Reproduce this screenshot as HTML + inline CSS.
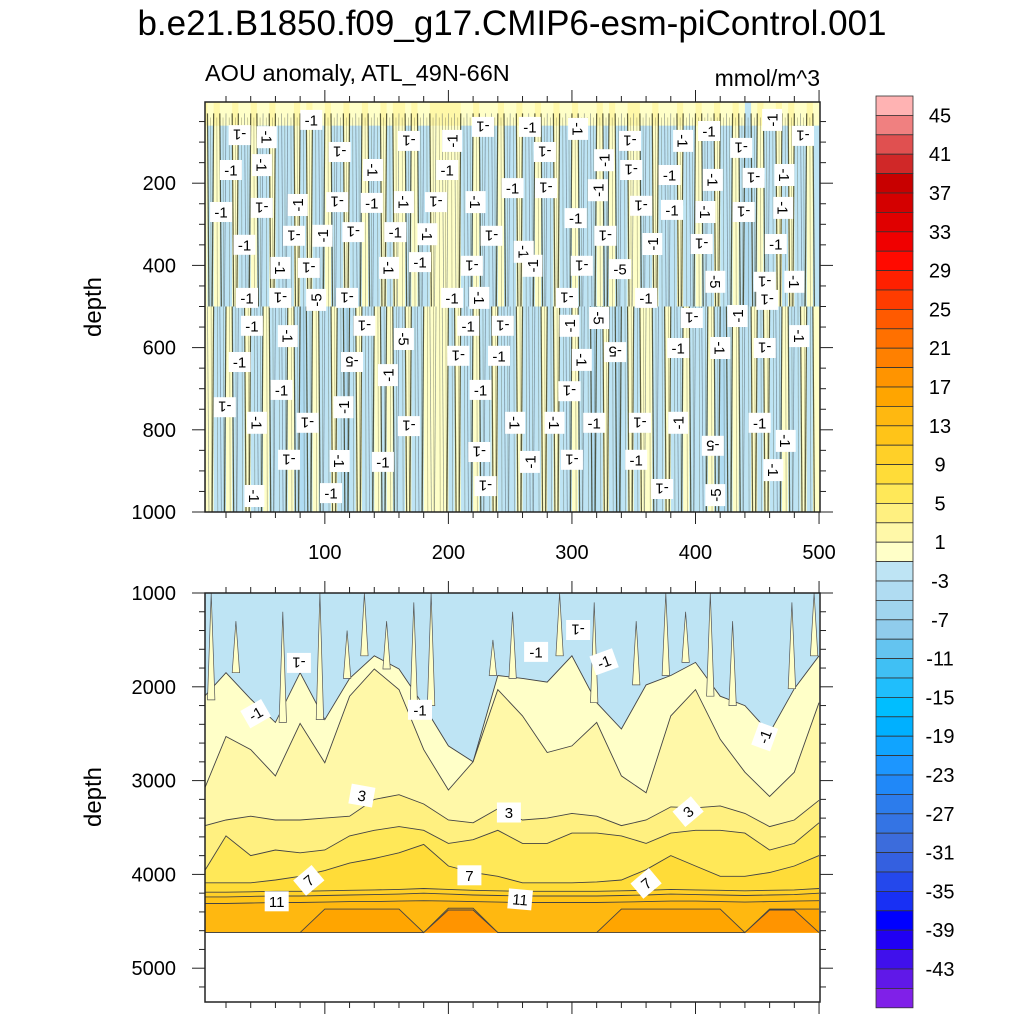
<!DOCTYPE html>
<html><head><meta charset="utf-8"><style>
html,body{margin:0;padding:0;background:#fff;}
svg{display:block;font-family:"Liberation Sans",sans-serif;}
</style></head><body>
<svg id="chart" width="1024" height="1024" viewBox="0 0 1024 1024" xmlns="http://www.w3.org/2000/svg">
<defs>
<clipPath id="clipTop"><rect x="205" y="102" width="615" height="410"/></clipPath>
<clipPath id="clipBot"><rect x="205" y="593" width="615" height="409"/></clipPath>
</defs>
<text x="512" y="35" text-anchor="middle" font-size="35">b.e21.B1850.f09_g17.CMIP6-esm-piControl.001</text>
<text x="205" y="81" font-size="23.5">AOU anomaly, ATL_49N-66N</text>
<text x="820" y="86" text-anchor="end" font-size="23">mmol/m^3</text>
<text transform="translate(101,307) rotate(-90)" text-anchor="middle" font-size="24">depth</text>
<text transform="translate(101,797) rotate(-90)" text-anchor="middle" font-size="24">depth</text>
<g id="topFill" clip-path="url(#clipTop)"></g>
<g id="topLabels"></g>
<g id="botFill" clip-path="url(#clipBot)"></g>
<g id="botLabels"></g>
<g id="axes"></g>
<g id="cbar"></g>
</svg>
<script>
// ---- data ----
const cbColors = ["#FFB3B3","#F08080","#E05050","#D02828","#C80000","#D40000","#E00000","#F00000","#FF0A00","#FF2000","#FF3C00","#FF5A00","#FF7000","#FF8000","#FF9400","#FFA500","#FFB810","#FFC418","#FFD028","#FFDC38","#FFE858","#FFF080","#FFF8A8","#FFFFC8","#BEE4F4","#B0DCF2","#A0D4EE","#90CCEC","#64C4F0","#40C0F4","#20BEFC","#00BEFF","#00B0FF","#10A4FF","#1C96FF","#2088F8","#2C7CEC","#3474E4","#3C6CDC","#3460E0","#2448EC","#1830F4","#0000FF","#2000F4","#4010EC","#6018E8","#8020E8"];
const cbLabels = ["45","41","37","33","29","25","21","17","13","9","5","1","-3","-7","-11","-15","-19","-23","-27","-31","-35","-39","-43"];
const xTicks = [100,200,300,400,500];
const topYTicks = [200,400,600,800,1000];
const botYTicks = [1000,2000,3000,4000,5000];

const topUpper = [0,-2,0,-2,-2,0,-2,-2,0,-2, -2,0,-2,-2,-2,0,-2,0,-2,-2, 0,-2,-2,0,-2,-2,0,-2,-2,0, -2,0,0,-2,0,-2,-2,0,0,0, 0,0,-2,-2,0,-2,-2,-2,0,-2, -2,0,-2,-2,0,-2,-2,0,-2,-2, 0,-2,-2,-2,0,-2,0,-2,-2,0, 0,-2,-2,0,-2,-2,-2,0,-2,-2, 0,-2,-2,0,-2,-2,0,-2,-4,-2, 0,-2,-2,0,-2,0,-2,-2,0,-2];
const topLower = [0,0,-2,-2,0,-2,-2,0,-2,-2, 0,-2,-2,-2,0,-2,-4,-2,0,-2, -2,0,-2,-4,-2,0,-2,-2,0,-2, 0,-2,-2,0,-2,-2,0,0,0,0, -2,0,-2,-2,0,-2,-2,0,-2,-2, -2,0,-2,-2,-2,0,-2,0,-2,-2, 0,-2,-2,-4,-2,0,-2,-4,-2,0, -2,0,0,-2,-2,0,-2,-2,0,-2, -2,-2,0,-2,-4,-2,0,-2,-2,0, -2,0,-2,-2,0,-2,-2,0,-2,0];
const topSurfaceDepth = [0,30,60];
const topSurfaceOffset = [2,1.5];

const topLabelPos = [[31,83],[53,88],[89,46],[168,97],[203,97],[228,63],[266,63],[305,68],[347,97],[390,97],[411,73],[437,114],[462,46],[487,85],
[24,168],[49,156],[112,124],[139,168],[199,168],[278,124],[326,144],[348,168],[379,180],[414,192],[447,187],[472,180],
[16,270],[49,260],[78,253],[110,246],[138,248],[164,246],[190,246],[222,246],[252,212],[279,212],[321,217],[356,255],[381,265],[408,270],[439,270],[471,260],
[35,350],[75,328],[98,328],[123,319],[157,319],[183,324],[235,328],[261,367],[303,285],[327,328],[365,348],[405,348],[465,348],
[64,406],[87,406],[152,406],[177,392],[219,401],[268,401],[308,401],[339,409],[416,440],[456,440],[480,440],
[37,479],[64,479],[93,484],[118,479],[203,479],[225,479],[296,479],[322,528],[360,479],[397,528],[434,523],[458,484],
[41,547],[70,572],[132,547],[164,579],[216,547],[244,547],[298,547],[335,611],[386,601],[420,601],[456,601],[484,572],
[31,635],[122,635],[151,667],[208,620],[241,620],[308,630],
[19,745],[45,783],[65,703],[86,783],[115,745],[168,791],[226,703],[254,783],[298,706],[286,783],[318,783],[355,783],[386,783],[414,839],[452,783],[473,827],
[71,873],[112,876],[147,878],[225,854],[266,878],[300,873],[352,873],[463,898],[230,937],[43,961],[105,954],[373,944],[416,959]];
const topLabelFive = [[93,484],[122,635],[164,579],[339,409],[322,528],[335,611],[416,440],[414,839],[416,959]];

const botYears = [0,20,40,60,80,100,120,140,160,180,200,220,240,260,280,300,320,340,360,380,400,420,440,460,480,500];
const lvlM1 = [2140,1850,2130,2380,1850,2350,1910,1670,1810,2200,2630,2800,1880,1910,1950,1670,2170,2450,1980,1880,1740,2100,2200,2490,2020,1670];
const lvl1 = [3170,2530,2670,2950,2390,2810,2100,1810,2030,2670,3100,2800,2030,2310,2700,2630,2380,2950,3130,2310,2030,2560,2910,3170,2910,2170];
const lvl3 = [3490,3420,3380,3420,3420,3400,3380,3200,3150,3250,3420,3450,3300,3420,3400,3350,3380,3480,3420,3280,3290,3270,3350,3490,3420,3210];
const lvl5 = [4020,3590,3800,3740,3770,3740,3590,3530,3490,3530,3670,3630,3530,3670,3670,3560,3560,3590,3670,3560,3530,3530,3560,3740,3670,3450];
const lvl7 = [4090,4090,4090,4060,4020,3960,3880,3830,3770,3680,3910,3980,4020,4090,4090,4090,4080,4060,3950,3800,3910,4020,4020,3980,3910,3800];
const lvl9 = [4190,4190,4185,4180,4180,4175,4170,4165,4160,4150,4160,4170,4175,4180,4180,4180,4180,4175,4170,4160,4165,4170,4175,4170,4165,4150];
const lvl11 = [4240,4240,4235,4230,4230,4225,4220,4215,4210,4200,4210,4220,4225,4230,4230,4230,4230,4225,4220,4210,4215,4220,4225,4220,4215,4200];
const lvl13 = [4310,4310,4305,4300,4300,4295,4290,4290,4285,4280,4285,4290,4295,4300,4300,4300,4300,4295,4290,4285,4285,4290,4295,4290,4285,4280];
const lvl15 = [4620,4620,4620,4620,4620,4370,4370,4370,4370,4620,4360,4360,4620,4620,4620,4620,4620,4370,4370,4370,4370,4370,4620,4370,4370,4370];
const lvl17 = [4620,4620,4620,4620,4620,4620,4620,4620,4620,4620,4380,4380,4620,4620,4620,4620,4620,4620,4620,4620,4620,4620,4620,4380,4380,4620];
const botDataBottom = 4620;
const paleStreakYears = [8,28,66,96,118,132,150,172,186,236,252,290,318,352,376,392,412,430,478,496];
const paleStreakTop = [1000,1300,1200,1000,1400,1000,1300,1100,1000,1500,1200,1000,1100,1300,1000,1200,1000,1300,1100,1000];
const botLabels = [["-1",79,1745],["-1",44,2287],["-1",177,2245],["-1",271,1628],["-1",305,1394],["-1",326,1734],["-1",456,2532],
["3",130,3160],["3",249,3340],["3",394,3330],["7",87,4064],["7",217,4010],["7",360,4096],["11",61,4287],["11",258,4266]];

// ---- axis functions ----
const NS = "http://www.w3.org/2000/svg";
const xS = yr => 205 + (yr - 3) * 1.2355;
const yTop = d => 101 + d * 0.411;
const yBot = d => 593 + (d - 1000) * 0.0938;
function colorFor(v){ let k = Math.floor((47 - v) / 2); k = Math.max(0, Math.min(46, k)); return cbColors[k]; }
function mk(tag, attrs, parent){ const e = document.createElementNS(NS, tag); for (const k in attrs) e.setAttribute(k, attrs[k]); parent.appendChild(e); return e; }

// ---- top panel ----
const gT = document.getElementById('topFill');
const nc = topUpper.length;
const colYears = 500 / nc;
for (let c = 0; c < nc; c++) {
  const x0 = xS(c * colYears), x1 = xS((c + 1) * colYears);
  const segs = [];
  for (let s = 0; s < topSurfaceOffset.length; s++) segs.push([topSurfaceDepth[s], topSurfaceDepth[s+1], topUpper[c] + topSurfaceOffset[s]]);
  segs.push([60, 500, topUpper[c]]);
  segs.push([500, 1000, topLower[c]]);
  for (const [d0, d1, v] of segs) {
    const r = mk('rect', {x: x0.toFixed(2), y: yTop(d0).toFixed(2), width: (x1 - x0 + 0.4).toFixed(2), height: (yTop(d1) - yTop(d0) + 0.4).toFixed(2), fill: colorFor(v)}, gT);
    
    
  }
}
for (let c = 1; c < nc; c++) {
  const x = xS(c * colYears);
  const parts = [[60, 500, topUpper], [500, 1000, topLower]];
  for (const [d0, d1, arr] of parts) {
    const change = arr[c] !== arr[c-1];
    const l = mk('line', {x1: x, x2: x + (c % 2 ? 1.5 : -1.5), y1: yTop(d0 - (d0 === 60 ? 30 : 0)), y2: yTop(d1), stroke: change ? '#33331a' : '#4a5560', 'stroke-width': change ? 1.2 : 0.7, 'stroke-opacity': change ? 0.8 : 0.6}, gT);
    
    
  }
  const l2 = mk('line', {x1: x - 3, x2: x - 2, y1: yTop(40), y2: yTop(1000), stroke: '#3a3a20', 'stroke-width': 0.6, 'stroke-opacity': 0.45}, gT);
  
  
}
const gTL = document.getElementById('topLabels');
const rots = [180, 90, 0, 180, 270, 180, 0, 90];
topLabelPos.forEach((p, i) => {
  const isFive = topLabelFive.some(q => q[0] === p[0] && q[1] === p[1]);
  const cx = xS(p[0]), cy = yTop(p[1]);
  const g = mk('g', {transform: `translate(${cx.toFixed(1)},${cy.toFixed(1)}) rotate(${rots[i % rots.length]})`}, gTL);
  
  
  mk('rect', {x: -11, y: -10, width: 22, height: 20, fill: '#fff'}, g);
  const t = mk('text', {x: 0, y: 5.5, 'text-anchor': 'middle', 'font-size': 15}, g);
  t.textContent = isFive ? '-5' : '-1';
});

// ---- bottom panel ----
const gB = document.getElementById('botFill');
const xL = xS(3), xR = xS(500);
const base = mk('rect', {x: xL, y: yBot(1000), width: xR - xL, height: yBot(botDataBottom) - yBot(1000), fill: colorFor(-2)}, gB);


const levels = [[-1, lvlM1], [1, lvl1], [3, lvl3], [5, lvl5], [7, lvl7], [9, lvl9], [11, lvl11], [13, lvl13], [15, lvl15], [17, lvl17]];
for (const [lv, arr] of levels) {
  let pts = botYears.map((yr, i) => `${xS(yr).toFixed(1)},${yBot(Math.min(arr[i], botDataBottom)).toFixed(1)}`);
  const poly = pts.join(' ') + ` ${xS(500).toFixed(1)},${yBot(botDataBottom).toFixed(1)} ${xS(0).toFixed(1)},${yBot(botDataBottom).toFixed(1)}`;
  const p = mk('polygon', {points: poly, fill: colorFor(lv + 1)}, gB);
  
  
  const l = mk('polyline', {points: pts.join(' '), fill: 'none', stroke: '#444', 'stroke-width': 0.9}, gB);
  
  
  if (lv === -1) {
    paleStreakYears.forEach((yr, i) => {
      const j = Math.min(botYears.length - 1, Math.round(yr / 20));
      const yb = yBot(lvlM1[j]);
      const s = mk('polygon', {points: `${xS(yr - 3).toFixed(1)},${yb.toFixed(1)} ${xS(yr).toFixed(1)},${yBot(paleStreakTop[i]).toFixed(1)} ${xS(yr + 3).toFixed(1)},${yb.toFixed(1)}`, fill: colorFor(0), stroke: '#555', 'stroke-width': 0.7}, gB);
      
      
    });
  }
}
const gBL = document.getElementById('botLabels');
const brots = [180, 330, 0, 0, 180, 340, 290, 10, 0, 320, 320, 0, 320, 0, 5];
botLabels.forEach((b, i) => {
  const g = mk('g', {transform: `translate(${xS(b[1]).toFixed(1)},${yBot(b[2]).toFixed(1)}) rotate(${brots[i]})`}, gBL);
  
  
  mk('rect', {x: -12, y: -10, width: 24, height: 20, fill: '#fff'}, g);
  const t = mk('text', {x: 0, y: 5.5, 'text-anchor': 'middle', 'font-size': 15}, g);
  t.textContent = b[0];
});

// ---- axes ----
const gA = document.getElementById('axes');
function frame(y0, y1, name){
  const r = mk('rect', {x: 205, y: y0, width: 615, height: y1 - y0, fill: 'none', stroke: '#222', 'stroke-width': 1.5}, gA);
  
  
}
function tick(x1, y1, x2, y2){
  const l = mk('line', {x1, y1, x2, y2, stroke: '#222', 'stroke-width': 1}, gA);
  
  
}
function label(x, y, s, anchor, name){
  const t = mk('text', {x, y, 'text-anchor': anchor, 'font-size': 20}, gA);
  
  
  t.textContent = s;
}
frame(102, 512, 'top-plot-frame');
frame(593, 1002, 'bottom-plot-frame');
for (const [yt, yb] of [[102, 512], [593, 1002]]) {
  for (let yr = 20; yr <= 500; yr += 20) {
    const x = xS(yr); const maj = yr % 100 === 0;
    tick(x, yb, x, yb + (maj ? 12 : 6));
    tick(x, yt, x, yt - (maj ? 12 : 6));
  }
}
xTicks.forEach(v => label(xS(v), 559, String(v), 'middle', 'x-tick-label'));
for (let d = 50; d <= 1000; d += 50) {
  const y = yTop(d); const maj = d % 200 === 0;
  tick(205, y, 205 - (maj ? 13 : 6), y); tick(820, y, 820 + (maj ? 13 : 6), y);
}
topYTicks.forEach(v => label(176, yTop(v) + 7, String(v), 'end', 'y-tick-label-top'));
for (let d = 1000; d <= 5300; d += 200) {
  const y = yBot(d); const maj = d % 1000 === 0;
  tick(205, y, 205 - (maj ? 13 : 6), y); tick(820, y, 820 + (maj ? 13 : 6), y);
}
botYTicks.forEach(v => label(176, yBot(v) + 7, String(v), 'end', 'y-tick-label-bottom'));

// ---- colorbar ----
const gC = document.getElementById('cbar');
const cbTop = 96, cbBox = 19.4;
cbColors.forEach((c, i) => {
  const r = mk('rect', {x: 876, y: (cbTop + i * cbBox).toFixed(2), width: 37, height: cbBox.toFixed(2), fill: c, stroke: '#333', 'stroke-width': 0.8}, gC);
  
  
});
cbLabels.forEach((s, i) => {
  const t = mk('text', {x: 940, y: (cbTop + (1 + 2 * i) * cbBox + 7).toFixed(1), 'text-anchor': 'middle', 'font-size': 20}, gC);
  
  
  t.textContent = s;
});
</script>
</body></html>
